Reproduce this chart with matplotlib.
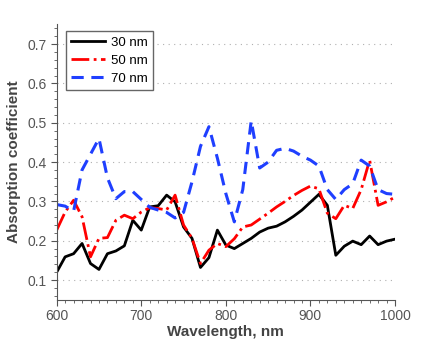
import numpy as np
import matplotlib
matplotlib.use('Agg')
import matplotlib.pyplot as plt
from matplotlib.ticker import MultipleLocator

plt.rcParams['font.family'] = ['Liberation Sans', 'DejaVu Sans']

wavelength = list(range(600, 1001, 10))

abs_30 = [0.120, 0.159, 0.167, 0.193, 0.142, 0.127, 0.167, 0.174, 0.187, 0.252,
          0.227, 0.286, 0.289, 0.316, 0.299, 0.235, 0.206, 0.132, 0.157, 0.227,
          0.189, 0.180, 0.193, 0.206, 0.222, 0.232, 0.237, 0.248, 0.262, 0.278,
          0.298, 0.318, 0.290, 0.163, 0.186, 0.199, 0.190, 0.212, 0.190, 0.199,
          0.204]

abs_50 = [0.227, 0.273, 0.303, 0.261, 0.159, 0.206, 0.208, 0.252, 0.265, 0.256,
          0.273, 0.284, 0.282, 0.278, 0.316, 0.240, 0.206, 0.142, 0.176, 0.193,
          0.185, 0.205, 0.235, 0.240, 0.255, 0.270, 0.286, 0.300, 0.315, 0.328,
          0.339, 0.332, 0.270, 0.256, 0.290, 0.282, 0.330, 0.405, 0.290, 0.299,
          0.311]

abs_70 = [0.292, 0.288, 0.275, 0.380, 0.420, 0.460, 0.360, 0.307, 0.325, 0.325,
          0.305, 0.285, 0.278, 0.272, 0.258, 0.272, 0.350, 0.440, 0.490, 0.410,
          0.320, 0.248, 0.330, 0.505, 0.385, 0.400, 0.430, 0.435, 0.428, 0.415,
          0.405, 0.390, 0.330, 0.305, 0.330, 0.345, 0.405, 0.390, 0.330, 0.320,
          0.318]

fig = plt.figure(figsize=(4.36, 3.4), dpi=100)
ax = fig.add_axes([0.130, 0.1185, 0.776, 0.8095])

ax.plot(wavelength, abs_30, color='black', lw=2.0, label='30 nm')
ax.plot(wavelength, abs_50, color='#ff0000', lw=2.0, ls='-.', label='50 nm')
ax.plot(wavelength, abs_70, color='#1f3fff', lw=2.2, ls=(0, (4, 2.5)), label='70 nm')

ax.set_xlim(600, 1000)
ax.set_ylim(0.05, 0.75)
ax.xaxis.set_major_locator(MultipleLocator(100))
ax.xaxis.set_minor_locator(MultipleLocator(10))
ax.yaxis.set_major_locator(MultipleLocator(0.1))
ax.yaxis.set_minor_locator(MultipleLocator(0.02))

ax.grid(axis='y', which='major', color='#b0b0b0', ls=(0, (1, 4)), lw=0.8)
for s in ['top', 'right']:
    ax.spines[s].set_visible(False)
for s in ['left', 'bottom']:
    ax.spines[s].set_color('#555555')

ax.tick_params(which='both', colors='#555555', labelsize=10, labelcolor='#555555', pad=3)
ax.tick_params(which='major', length=4)
ax.tick_params(which='minor', length=2)

ax.set_xlabel('Wavelength, nm', fontsize=11, fontweight='bold', color='#444444', labelpad=1)
ax.set_ylabel('Absorption coefficient', fontsize=11, fontweight='bold', color='#444444', labelpad=5)

leg = ax.legend(loc='upper left', fontsize=9.5, fancybox=False, framealpha=1,
                edgecolor='#666666', handlelength=2.6, handletextpad=0.4,
                labelspacing=0.45, borderpad=0.4, borderaxespad=0,
                bbox_to_anchor=(0.027, 0.976))
leg.get_frame().set_linewidth(1.0)

fig.savefig('out.png', dpi=100)
